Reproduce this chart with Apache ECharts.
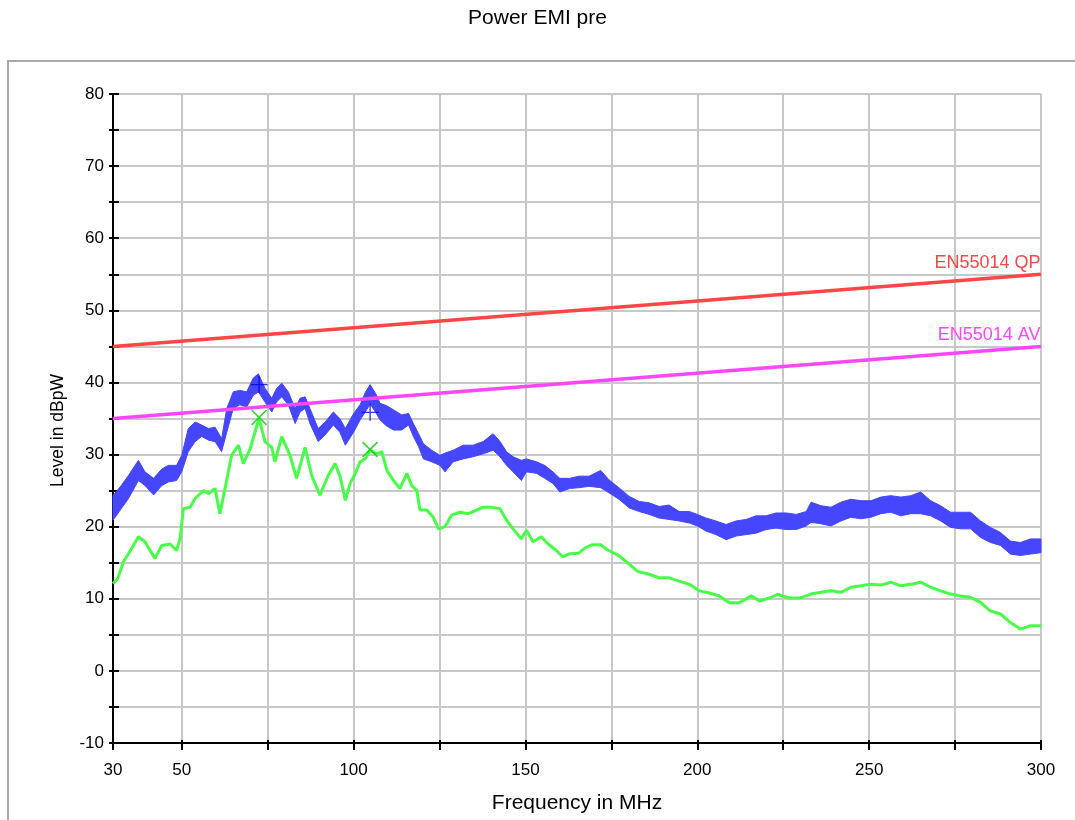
<!DOCTYPE html>
<html><head><meta charset="utf-8">
<script src="https://cdn.jsdelivr.net/npm/echarts@6/dist/echarts.min.js"></script>
<style>html,body{margin:0;padding:0;background:#fff;}#c{width:1075px;height:820px;}</style>
</head><body><div id="c"></div>
<script>
// ---- data ----
const freqBlue = [30.0,32.4,34.5,37.4,39.3,41.8,44.2,46.1,48.5,50.0,51.9,53.9,55.8,57.8,59.7,61.6,63.1,65.0,66.9,68.9,70.8,72.3,74.2,76.2,77.6,79.1,81.0,83.0,84.4,85.9,87.3,89.7,91.7,94.1,96.0,97.6,100.0,101.9,103.4,104.8,106.5,107.7,109.5,111.6,114.0,116.0,117.4,118.9,120.3,122.7,125.1,126.6,129.0,131.9,134.8,137.7,140.6,142.6,144.5,146.4,148.8,150.3,153.2,155.6,158.0,160.0,162.9,165.6,168.5,171.9,174.3,177.2,180.2,183.1,186.0,188.9,191.8,194.7,197.7,200.0,202.5,205.4,208.4,211.3,214.2,217.1,220.0,222.9,225.9,228.8,231.7,233.1,236.0,238.9,241.8,244.7,247.6,250.5,253.4,256.3,259.2,262.1,265.0,267.9,270.8,273.7,276.6,279.5,282.4,285.3,288.2,291.1,294.0,296.9,300.0];
const blueLow = [20.9,22.5,23.9,26.4,25.7,24.4,25.7,26.2,26.4,27.6,30.4,31.8,32.5,32.0,31.8,30.4,33.1,36.4,36.9,36.6,38.2,38.7,37.3,35.9,37.3,38.0,36.9,34.3,35.9,36.4,34.3,31.8,32.7,34.1,33.1,31.3,33.1,34.8,35.9,37.0,35.8,34.8,34.0,33.4,33.4,34.1,32.5,31.1,29.4,29.0,28.5,27.6,29.0,29.4,29.7,30.1,30.6,29.7,28.5,27.6,26.4,27.6,27.4,26.7,26.0,24.8,25.3,25.4,25.6,25.4,24.7,23.8,22.6,22.1,21.7,21.2,21.0,20.8,20.5,20.1,19.4,18.9,18.2,18.7,18.9,19.1,19.6,19.8,19.6,19.6,20.1,20.6,20.4,20.1,20.8,21.3,21.1,21.3,21.8,22.0,21.5,21.8,21.8,21.5,20.8,19.9,19.7,19.7,18.5,17.8,17.4,16.2,16.0,16.2,16.4];
const blueHigh = [24.3,25.7,27.1,29.2,27.6,26.7,28.0,28.5,28.5,29.9,33.6,34.5,34.1,33.6,33.8,32.2,36.4,38.7,38.9,38.7,40.6,41.2,39.2,37.8,39.2,39.9,38.7,36.4,37.8,38.0,36.4,33.6,34.5,35.9,35.0,33.6,35.7,36.9,38.6,39.7,38.4,37.1,36.8,36.2,35.5,35.7,34.3,32.9,31.5,30.6,29.9,30.2,30.6,31.3,31.3,31.8,32.9,31.8,30.4,29.7,29.2,29.4,29.0,28.5,27.6,26.7,26.7,27.0,27.0,27.8,26.5,25.4,24.2,23.5,23.3,22.8,23.0,22.1,22.1,21.7,21.2,20.8,20.3,20.8,21.0,21.5,21.5,21.9,21.9,21.7,22.1,23.4,22.9,22.7,23.4,23.8,23.6,23.6,24.1,24.3,24.1,24.3,24.8,23.6,22.9,22.0,22.0,22.0,20.8,19.9,19.2,18.0,17.8,18.3,18.3];
const freqGreen = [30.0,31.4,33.0,34.5,37.4,39.3,42.2,44.2,46.6,48.5,49.5,50.5,52.4,53.9,56.3,57.8,59.7,61.1,62.6,64.5,66.5,67.9,69.9,71.3,72.5,74.2,76.2,77.1,79.1,81.5,83.4,85.9,87.8,90.2,92.6,94.6,96.1,97.6,99.0,100.5,101.9,103.4,104.8,106.8,108.2,109.7,111.6,113.5,115.5,116.9,118.4,119.3,121.3,123.2,124.7,126.6,128.5,130.9,133.4,135.8,137.7,140.1,142.6,144.5,146.4,148.8,150.3,152.2,154.6,156.6,159.0,160.9,162.9,165.4,167.5,169.5,171.9,173.8,176.8,179.7,182.6,186.0,188.9,191.8,194.7,197.7,200.6,203.5,206.4,209.3,212.3,215.7,218.1,221.0,223.4,226.8,229.8,233.1,236.0,238.9,241.8,244.7,247.6,250.5,253.4,256.3,259.2,262.1,265.0,267.9,270.8,273.7,276.6,279.5,282.4,285.3,288.2,291.1,294.0,296.9,300.0];
const greenLevel = [12.1,12.8,15.1,16.25,18.6,17.9,15.6,17.4,17.6,16.7,18.3,22.5,22.7,23.9,25.0,24.6,25.3,21.8,25.3,29.9,31.3,28.75,30.8,33.1,35.0,31.8,31.0,29.0,32.5,29.9,26.7,31.0,27.1,24.35,27.1,28.75,26.9,23.65,26.0,27.4,29.0,29.4,30.6,30.1,30.4,27.8,26.4,25.3,27.4,25.7,25.0,22.3,22.3,21.3,19.7,20.0,21.6,22.0,21.8,22.3,22.7,22.7,22.5,20.9,19.7,18.3,19.5,17.9,18.6,17.6,16.7,15.8,16.25,16.3,17.1,17.5,17.5,16.8,16.1,15.0,13.8,13.4,12.9,12.9,12.45,12.0,11.1,10.8,10.4,9.45,9.45,10.4,9.7,10.1,10.6,10.1,10.1,10.65,10.9,11.1,10.9,11.6,11.8,12.0,11.9,12.3,11.8,12.0,12.3,11.6,11.1,10.65,10.4,10.2,9.5,8.3,7.9,6.7,5.8,6.25,6.25];
const limitFreq = [30, 300];
const qpLimit = [45, 55];
const avLimit = [35, 45];
const peakFreq = [72.5, 104.8];
const peakBlue = [39.7, 35.85];
const peakGreen = [35.15, 30.7];
const xTickValues = [30,50,75,100,125,150,175,200,225,250,275,300];
const xLabelValues = [30,50,100,150,200,250,300];
const yLabelValues = [-10,0,10,20,30,40,50,60,70,80];
const qpName = 'EN55014 QP';
const avName = 'EN55014 AV';

// ---- chart ----
const FONT = '"Liberation Sans", Arial, sans-serif';
const BLUE = '#4646ff', GREEN = '#46ff46', RED = '#ff4646', MAG = '#ff46ff';
const GRIDC = '#c8c8c8';
const plusPath = 'path://M9.2,0H10.8V9.2H20V10.8H10.8V20H9.2V10.8H0V9.2H9.2Z';
const zip = (a, b) => a.map((v, i) => [v, b[i]]);

const chart = echarts.init(document.getElementById('c'), null, {renderer: 'canvas'});
const xBase = {type: 'value', min: 30, max: 300, position: 'bottom'};
const yBase = {type: 'value', min: -10, max: 80, interval: 5, position: 'left'};
chart.setOption({
  animation: false,
  backgroundColor: '#fff',
  textStyle: {fontFamily: FONT},
  title: {text: 'Power EMI pre', left: 'center', top: 3,
    textStyle: {fontFamily: FONT, fontSize: 21, fontWeight: 'normal', color: '#000'}},
  graphic: [{type: 'rect', shape: {x: 8, y: 61, width: 1200, height: 900},
    style: {fill: 'none', stroke: '#a9a9a9', lineWidth: 2}, silent: true, z: -10}],
  grid: {left: 113, right: 34, top: 94, bottom: 77, containLabel: false},
  xAxis: [
    Object.assign({}, xBase, {
      name: 'Frequency in MHz', nameLocation: 'middle', nameGap: 50,
      nameTextStyle: {fontFamily: FONT, fontSize: 21, color: '#000'},
      axisLine: {show: true, onZero: false, lineStyle: {color: '#000', width: 2}},
      axisTick: {show: true, customValues: xTickValues, length: 7, lineStyle: {color: '#000', width: 2}},
      axisLabel: {customValues: xLabelValues, fontFamily: FONT, fontSize: 17, color: '#000', margin: 19},
      splitLine: {show: true, lineStyle: {color: GRIDC, width: 2}}
    }),
    Object.assign({}, xBase, {
      axisLine: {show: false, onZero: false},
      axisTick: {show: true, inside: true, customValues: xTickValues, length: 3, lineStyle: {color: '#000', width: 2}},
      axisLabel: {show: false}, splitLine: {show: false}
    })
  ],
  yAxis: [
    Object.assign({}, yBase, {
      name: 'Level in dBpW', nameLocation: 'middle', nameGap: 46, nameRotate: 90,
      nameTextStyle: {fontFamily: FONT, fontSize: 17.5, color: '#000', padding: [0, 24, 0, 0]},
      axisLine: {show: true, onZero: false, lineStyle: {color: '#000', width: 2}},
      axisTick: {show: true, length: 4, lineStyle: {color: '#000', width: 2}},
      axisLabel: {customValues: yLabelValues, fontFamily: FONT, fontSize: 17, color: '#000', margin: 9},
      splitLine: {show: true, lineStyle: {color: GRIDC, width: 2}}
    }),
    Object.assign({}, yBase, {
      axisLine: {show: false, onZero: false},
      axisTick: {show: true, inside: true, length: 6, lineStyle: {color: '#000', width: 2}},
      axisLabel: {show: false}, splitLine: {show: false}
    })
  ],
  series: [
    {
      name: 'peak band', type: 'custom', z: 2, silent: true,
      data: [[freqBlue[0], blueLow[0]]],
      renderItem: function (params, api) {
        const pts = [];
        for (let i = 0; i < freqBlue.length; i++) pts.push(api.coord([freqBlue[i], blueHigh[i]]));
        for (let i = freqBlue.length - 1; i >= 0; i--) pts.push(api.coord([freqBlue[i], blueLow[i]]));
        return {type: 'polygon', shape: {points: pts},
          style: {fill: BLUE, stroke: BLUE, lineWidth: 1, lineJoin: 'miter'}};
      }
    },
    {
      name: 'average', type: 'line', z: 3, symbol: 'none', silent: true,
      data: zip(freqGreen, greenLevel),
      lineStyle: {color: GREEN, width: 3}
    },
    {
      name: qpName, type: 'line', z: 4, symbol: 'none', silent: true,
      data: zip(limitFreq, qpLimit),
      lineStyle: {color: RED, width: 3.5},
      markPoint: {symbol: 'circle', symbolSize: 1, itemStyle: {color: 'rgba(0,0,0,0)'}, silent: true,
        data: [{coord: [limitFreq[1], qpLimit[1]]}],
        label: {show: true, formatter: qpName, position: [0, -2], align: 'right', verticalAlign: 'bottom',
          color: RED, fontFamily: FONT, fontSize: 18}}
    },
    {
      name: avName, type: 'line', z: 4, symbol: 'none', silent: true,
      data: zip(limitFreq, avLimit),
      lineStyle: {color: MAG, width: 3.5},
      markPoint: {symbol: 'circle', symbolSize: 1, itemStyle: {color: 'rgba(0,0,0,0)'}, silent: true,
        data: [{coord: [limitFreq[1], avLimit[1]]}],
        label: {show: true, formatter: avName, position: [0, -2], align: 'right', verticalAlign: 'bottom',
          color: MAG, fontFamily: FONT, fontSize: 18}}
    },
    {
      name: 'peak markers', type: 'scatter', z: 6, silent: true,
      data: zip(peakFreq, peakBlue), symbol: plusPath, symbolSize: 17,
      itemStyle: {color: '#0000e6'}
    },
    {
      name: 'average markers', type: 'scatter', z: 6, silent: true,
      data: zip(peakFreq, peakGreen), symbol: plusPath, symbolSize: 21, symbolRotate: 45,
      itemStyle: {color: '#00d200'}
    }
  ]
});
</script>
</body></html>
